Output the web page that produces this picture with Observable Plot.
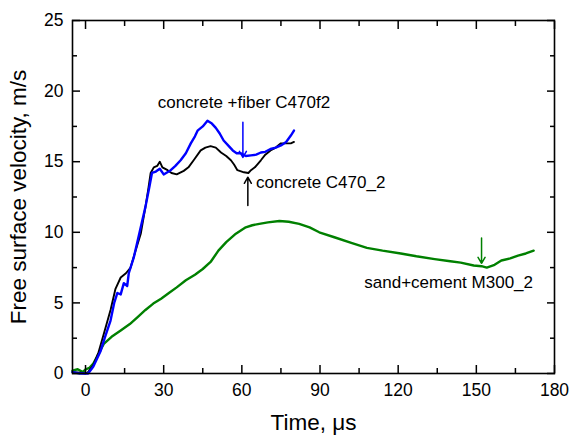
<!DOCTYPE html>
<html><head><meta charset="utf-8">
<script src="https://cdn.jsdelivr.net/npm/d3@7"></script>
<script src="https://cdn.jsdelivr.net/npm/@observablehq/plot@0.6"></script>
<style>body{margin:0;background:#fff} svg{font-family:"Liberation Sans",Arial,sans-serif}</style>
</head><body><div id="chart"></div>
<script>
const xMajor = [0, 30, 60, 90, 120, 150, 180];
const xMinor = [15, 45, 75, 105, 135, 165];
const yMajor = [0, 5, 10, 15, 20, 25];
const yMinor = [2.5, 7.5, 12.5, 17.5, 22.5];

const blackX = [-5,-2,0,1,3,5,7,9.6,11.5,13.5,15.5,17.3,19.2,21.2,23,24.2,25,26.2,27.5,28.5,29.5,31.5,33,35,37.7,39.5,41.5,44.2,46,48,50,52,54,55.8,57,58.3,60.8,62.5,63.5,65,67.3,69,71,73,75,77,78.8,80];
const blackY = [0.1,0.05,0,0.1,0.6,1.5,2.8,4.5,6.0,6.8,7.1,7.5,8.7,9.9,11.8,13.2,14.2,14.6,14.7,15.0,14.6,14.4,14.2,14.1,14.35,14.6,15.1,15.8,16.0,16.1,16.0,15.65,15.4,15.1,14.8,14.4,14.25,14.2,14.4,14.6,15.1,15.5,15.8,16.0,16.3,16.3,16.3,16.4];

const blueX = [-5,-2,0,1,3,5.8,7.5,9.6,11,12.2,13.5,14.7,16,16.6,18.5,20,21.5,23,24.5,25.5,27,28.5,30,32.7,34.5,36.5,38.5,40.4,42,43,45,46.8,48.5,50,51.5,53,55,56.5,58,59.6,61.5,63.5,65.5,67.3,69,71,73,75,77,78.8,80];
const blueY = [0.1,0,0,0,0.5,1.6,2.6,3.75,5.0,5.7,5.6,6.4,6.2,7.1,8.2,9.4,10.6,11.8,13.2,14.2,14.3,14.5,14.1,14.4,14.7,15.1,15.6,16.3,16.8,17.2,17.5,17.9,17.7,17.4,17.0,16.5,16.1,15.8,15.6,15.6,15.4,15.45,15.5,15.65,15.7,15.9,16.0,16.15,16.4,16.85,17.2];

const greenX = [-5,-3,-1,0,1.5,3,5,7,10,13.5,17,20,23,26,29,32,35,38.5,42,45,48,51,54,57.7,61.5,64,66.7,70,74.4,78,82,86,89.7,95.5,102,108,114,121,127,134,140,144,149,152,154,157,159.6,163,166,169,172];
const greenY = [0.2,0.3,0.1,0.3,0.4,0.7,1.4,2.1,2.6,3.05,3.5,4.0,4.5,4.95,5.3,5.7,6.1,6.6,7.0,7.4,7.9,8.7,9.3,9.9,10.35,10.5,10.6,10.7,10.8,10.75,10.6,10.35,10.0,9.65,9.25,8.9,8.7,8.5,8.3,8.1,7.95,7.85,7.65,7.6,7.5,7.7,8.0,8.15,8.35,8.5,8.7];

const labelNames = ["concrete +fiber C470f2", "concrete C470_2", "sand+cement M300_2"];
const labelX = [27.7, 65.4, 107];
const labelY = [19.2, 13.5, 6.45];
const arrowX = [60.4, 62.3, 152];
const arrowFrom = [17.8, 11.9, 9.6];
const arrowTo = [15.3, 13.9, 7.8];
const seriesColors = ["#0000ff", "#000000", "#008000"];

const xTitle = "Time, μs";
const yTitle = "Free surface velocity, m/s";

const toPts = (xs, ys) => xs.map((x, i) => ({x, y: ys[i]}));
const labels = labelNames.map((t, i) => ({t, x: labelX[i], y: labelY[i], c: seriesColors[i]}));
const arrows = arrowX.map((x, i) => ({x, y1: arrowFrom[i], y2: arrowTo[i], c: seriesColors[i]}));
const blank = () => "";

const chart = Plot.plot({
  width: 570, height: 435,
  marginLeft: 72, marginRight: 16, marginTop: 20, marginBottom: 62,
  style: {fontFamily: "'Liberation Sans', Arial, sans-serif", fontSize: "17.5px", color: "black", background: "white", overflow: "visible"},
  x: {domain: [-5, 180]},
  y: {domain: [0, 25]},
  marks: [
    Plot.line(toPts(greenX, greenY), {x: "x", y: "y", stroke: seriesColors[2], strokeWidth: 2.4}),
    Plot.line(toPts(blackX, blackY), {x: "x", y: "y", stroke: seriesColors[1], strokeWidth: 1.9}),
    Plot.line(toPts(blueX, blueY), {x: "x", y: "y", stroke: seriesColors[0], strokeWidth: 2.4}),
    Plot.arrow(arrows, {x: "x", y1: "y1", x2: "x", y2: "y2", x1: "x", stroke: "c", strokeWidth: 1.5, headLength: 7}),
    Plot.text(labels, {x: "x", y: "y", text: "t", textAnchor: "start", fontSize: 17, fill: "black"}),
    Plot.frame({stroke: "black", strokeWidth: 1.6}),
    Plot.axisX(xMajor, {tickSize: 0, tickPadding: 10, fontSize: 17.5, label: null}),
    Plot.axisY(yMajor, {tickSize: 0, tickPadding: 9, fontSize: 17.5, label: null}),
    Plot.axisX(xMajor, {tickSize: 8, dy: -8, tickFormat: blank, label: null, strokeWidth: 1.5}),
    Plot.axisX(xMinor, {tickSize: 5, dy: -5, tickFormat: blank, label: null, strokeWidth: 1.5}),
    Plot.axisX(xMajor, {anchor: "top", tickSize: 8, dy: 8, tickFormat: blank, label: null, strokeWidth: 1.5}),
    Plot.axisX(xMinor, {anchor: "top", tickSize: 5, dy: 5, tickFormat: blank, label: null, strokeWidth: 1.5}),
    Plot.axisY(yMajor, {tickSize: 8, dx: 8, tickFormat: blank, label: null, strokeWidth: 1.5}),
    Plot.axisY(yMinor, {tickSize: 5, dx: 5, tickFormat: blank, label: null, strokeWidth: 1.5}),
    Plot.axisY(yMajor, {anchor: "right", tickSize: 8, dx: -8, tickFormat: blank, label: null, strokeWidth: 1.5}),
    Plot.axisY(yMinor, {anchor: "right", tickSize: 5, dx: -5, tickFormat: blank, label: null, strokeWidth: 1.5}),
    Plot.text([xTitle], {text: d => d, frameAnchor: "bottom", textAnchor: "middle", lineAnchor: "middle", dy: 49, fontSize: 22.5}),
    Plot.text([yTitle], {text: d => d, frameAnchor: "left", textAnchor: "middle", lineAnchor: "middle", dx: -54, rotate: -90, fontSize: 22.5})
  ]
});
document.getElementById("chart").appendChild(chart);
</script>
</body></html>
